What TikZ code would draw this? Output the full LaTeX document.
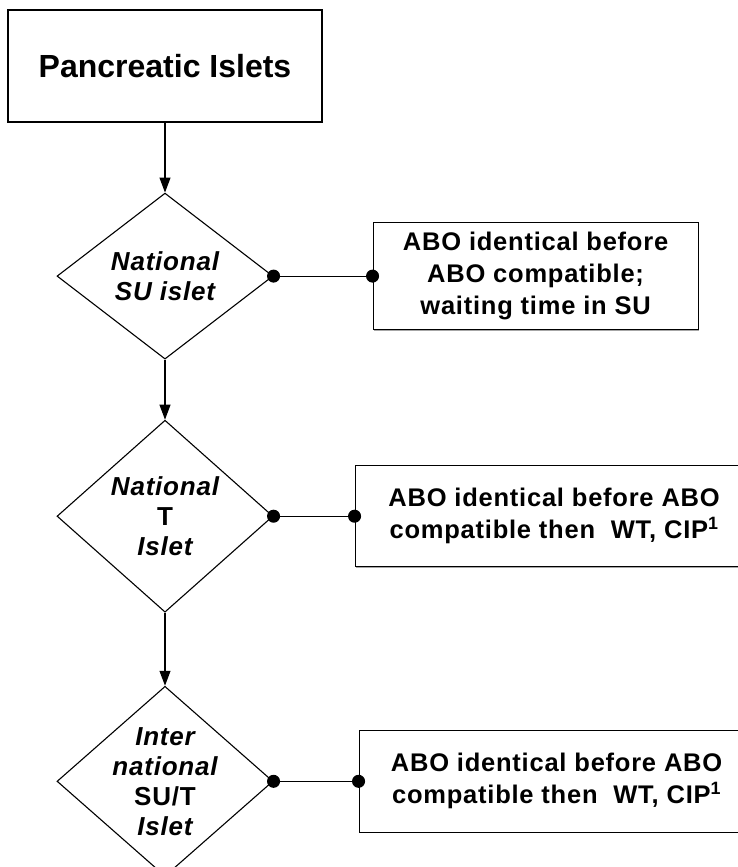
\documentclass[tikz,border=0pt]{standalone}
\usepackage{fontspec}
\setmainfont{Liberation Sans}
\usepackage{tikz}
\usetikzlibrary{arrows.meta,shapes.geometric,positioning,shadows}
\tikzset{
  basic/.style  = {draw, line width=1.1pt, fill=white, rectangle, align=center,
                   drop shadow={shadow xshift=1pt, shadow yshift=-1pt,
                                fill=black!35, opacity=1}},
  root/.style   = {basic, minimum width=314pt, minimum height=112pt,
                   font=\fontsize{32}{38}\bfseries\selectfont},
  rule/.style   = {basic, inner sep=0pt,
                   font=\fontsize{25.5}{32}\bfseries\addfontfeature{LetterSpace=3}\selectfont},
  decision/.style = {draw, diamond, line width=1.1pt, minimum width=216pt,
                   inner sep=0pt},
  decision text/.style = {align=center, inner sep=0pt,
                   font=\fontsize{26}{30}\bfseries\itshape\addfontfeature{LetterSpace=3}\selectfont},
  dot/.style    = {{Circle[length=13pt]}-{Circle[length=13pt]}, line width=1.1pt,
                   shorten <=-6.5pt, shorten >=-6.5pt}
}

\begin{document}
\begin{tikzpicture}[x=1pt, y=-1pt,
  >={Triangle[length=15pt,width=11pt]}]
\useasboundingbox (0,0) rectangle (738,867);
\clip (0,0) rectangle (738,867);

% root of the chart
\node[root] (islets) at (165,66) {Pancreatic Islets};

% the decisions, one below the other
\node[decision, minimum height=166pt, below=70pt of islets] (d1) {};
\node[decision, minimum height=192pt, below=60pt of d1] (d2) {};
\node[decision, minimum height=190pt, below=73pt of d2] (d3) {};

\node[decision text] (t1) at (d1) {National\\SU islet};
\node[decision text] (t2) at (d2) {National\\{\upshape T}\\Islet};
\node[decision text] (t3) at (d3) {Inter\\national\\{\upshape SU/T}\\Islet};

% the allocation rules, to the right of each decision
\node[rule, minimum width=325pt, minimum height=107pt, right=99pt of d1] (r1)
  {ABO identical before\\ABO compatible;\\waiting time in SU};
\node[rule, minimum width=398pt, minimum height=101pt, right=81pt of d2] (r2)
  {ABO identical before ABO\\compatible then~ WT, CIP\textsuperscript{1}};
\node[rule, minimum width=395pt, minimum height=102pt, right=85pt of d3] (r3)
  {ABO identical before ABO\\compatible then~ WT, CIP\textsuperscript{1}};

% arrows down the chart
\foreach \from/\to in {islets/d1, d1/d2, d2/d3}
  \draw[->, line width=1.1pt] (\from) -- (\to);

% lines from each decision to its rule
\foreach \i in {1,2,3}
  \draw[dot] (d\i) -- (r\i);
\end{tikzpicture}
\end{document}
